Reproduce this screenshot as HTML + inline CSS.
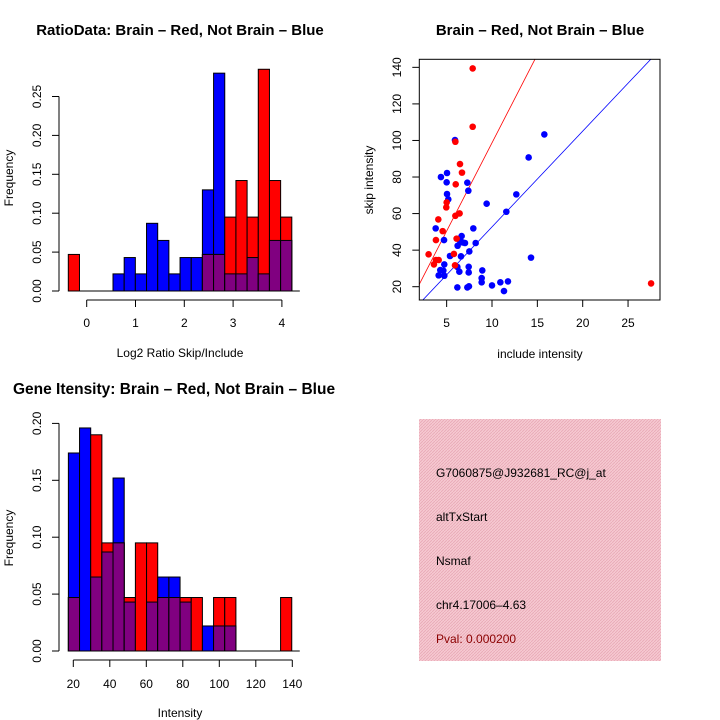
<!DOCTYPE html>
<html><head><meta charset="utf-8">
<style>
html,body{margin:0;padding:0;background:#fff;}
svg{display:block;font-family:"Liberation Sans","DejaVu Sans",sans-serif;}
</style></head>
<body>
<svg id="chart" width="720" height="720" viewBox="0 0 720 720" xmlns="http://www.w3.org/2000/svg">
<defs>
<pattern id="hatch" width="3" height="3" patternUnits="userSpaceOnUse">
<rect width="3" height="3" fill="#f6c9d1"/>
<path d="M0,3 L3,0" stroke="#e8a9b6" stroke-width="0.8"/>
</pattern>
</defs>
</svg>
<script>
// ---- Histogram 1: log2 ratio ----
const h1Start = -0.377;
const h1Width = 0.229;
const h1Red  = [0.047,0,0,0,0,0,0,0,0,0,0,0,0.047,0.047,0.095,0.142,0.095,0.285,0.142,0.095];
const h1Blue = [0,0,0,0,0.022,0.043,0.022,0.087,0.065,0.022,0.043,0.043,0.13,0.28,0.022,0.022,0.043,0.022,0.065,0.065];
const h1XTicks = [0,1,2,3,4];
const h1YTicks = ["0.00","0.05","0.10","0.15","0.20","0.25"];

// ---- Histogram 2: gene intensity ----
const h2Start = 17.3;
const h2Width = 6.12;
const h2Red  = [0.047,0,0.19,0.095,0.095,0.047,0.095,0.095,0.047,0.047,0.047,0.047,0,0.047,0.047,0,0,0,0,0.047];
const h2Blue = [0.174,0.196,0.065,0.087,0.152,0.043,0,0.043,0.065,0.065,0.043,0,0.022,0.022,0.022,0,0,0,0,0];
const h2XTicks = [20,40,60,80,100,120,140];
const h2YTicks = ["0.00","0.05","0.10","0.15","0.20"];

// ---- Scatter ----
const redX = [7.87,7.87,5.96,6.47,6.69,6.0,5.0,4.96,6.43,5.96,4.08,4.56,6.1,3.82,3.01,5.8,4.12,3.82,3.6,5.92,27.54];
const redY = [139.4,107.5,99.3,87.1,82.4,76,66.1,63.4,60.1,58.8,56.8,50.4,46.3,45.5,37.7,37.9,34.6,34.6,32.2,31.7,21.8];
const blueX = [5.92,15.77,14.04,5.04,4.37,5.0,7.28,7.39,5.04,5.18,9.41,12.68,11.58,3.79,7.94,4.71,6.65,6.47,6.76,7.02,8.2,6.21,7.5,5.37,6.58,4.74,6.18,7.43,4.3,4.63,6.4,7.43,8.93,4.12,4.74,8.86,8.86,10.92,11.76,10.0,7.28,6.18,7.46,11.32,14.3];
const blueY = [100.2,103.3,90.7,82.2,80,77.1,76.9,72.5,70.7,67.8,65.4,70.5,61,51.9,51.9,45.5,47.7,45.2,44.2,43.9,43.9,42.4,39.3,36.8,36.6,32.2,30.8,30.9,29.1,28.8,28.2,27.8,28.9,26.2,26,24.7,22.4,22.4,22.9,20.7,19.6,19.6,20.2,17.6,35.9];
const redLine = [9.65, 2.2];   // slope, intercept
const blueLine = [5.24, 0.3];
const scXTicks = [5,10,15,20,25];
const scYTicks = [20,40,60,80,100,120,140];

const NS = "http://www.w3.org/2000/svg";
const svg = document.getElementById('chart');
function mk(tag, attrs, parent){
  const e = document.createElementNS(NS, tag);
  for (const k in attrs) e.setAttribute(k, attrs[k]);
  (parent||svg).appendChild(e);
  return e;
}
function txt(s, x, y, opts, parent){
  const e = mk('text', Object.assign({x:x, y:y, 'font-size':12, 'text-anchor':'middle', fill:'#000'}, opts||{}), parent);
  e.textContent = s;
  return e;
}

function histogram(name, start, width, red, blue, xTicks, yTicks, xs, ys, base, xAxisY, xTickLabelY){
  const g = mk('g', {});
  
  
  for (let i = 0; i < red.length; i++) {
    const x0 = xs(start + i*width), x1 = xs(start + (i+1)*width);
    const vals = [['blue', blue[i]], ['red', red[i]], ['purple', Math.min(red[i], blue[i])]];
    for (const [c, v] of vals) {
      const r = mk('rect', {x:x0, y:ys(v), width:x1-x0, height:base-ys(v), fill:c === 'purple' ? '#800080' : c, stroke:'#000', 'stroke-width':1}, g);
      
      
    }
  }
  const bl = mk('line', {x1:xs(start), x2:xs(start+red.length*width)+8, y1:base, y2:base, stroke:'#000'}, g);
  
  
  const xa = mk('g', {}, g);
  
  
  mk('line', {x1:xs(xTicks[0]), x2:xs(xTicks[xTicks.length-1]), y1:xAxisY, y2:xAxisY, stroke:'#000'}, xa);
  for (const t of xTicks) {
    mk('line', {x1:xs(t), x2:xs(t), y1:xAxisY, y2:xAxisY+7, stroke:'#000'}, xa);
    const l = txt(String(t), xs(t), xTickLabelY, {}, xa);
    
    
  }
  const ya = mk('g', {}, g);
  
  
  const yx = 59;
  mk('line', {x1:yx, x2:yx, y1:ys(parseFloat(yTicks[0])), y2:ys(parseFloat(yTicks[yTicks.length-1])), stroke:'#000'}, ya);
  for (const t of yTicks) {
    const y = ys(parseFloat(t));
    mk('line', {x1:yx-7, x2:yx, y1:y, y2:y, stroke:'#000'}, ya);
    const l = txt(t, 41, y, {transform:'rotate(-90 41 ' + y + ')'}, ya);
    
    
  }
}

const h1xs = v => 86.7 + v*48.8;
const h1ys = v => 291 - v/0.05*38.9;
histogram('ratio-histogram', h1Start, h1Width, h1Red, h1Blue, h1XTicks, h1YTicks, h1xs, h1ys, 291, 300, 327);
let t;
t = txt('RatioData: Brain \u2013 Red, Not Brain \u2013 Blue', 180, 35, {'font-size':15, 'font-weight':'bold'});


t = txt('Log2 Ratio Skip/Include', 180, 357);


t = txt('Frequency', 13, 178, {transform:'rotate(-90 13 178)'});



const h2xs = v => 73.3 + (v-20)*1.825;
const h2ys = v => 651 - v/0.05*56.9;
histogram('intensity-histogram', h2Start, h2Width, h2Red, h2Blue, h2XTicks, h2YTicks, h2xs, h2ys, 651, 660, 688);
t = txt('Gene Itensity: Brain \u2013 Red, Not Brain \u2013 Blue', 174, 394, {'font-size':15.5, 'font-weight':'bold'});


t = txt('Intensity', 180, 717);


t = txt('Frequency', 13, 538, {transform:'rotate(-90 13 538)'});



const sxs = v => 401.3 + v*9.07;
const sys = v => 286.7 - (v-20)*1.828;
const sg = mk('g', {});


const clip = mk('clipPath', {id:'scclip'}, sg);
mk('rect', {x:419.3, y:59.3, width:240.7, height:240.7}, clip);
function regLine(p, color, name){
  const xa = 0, xb = 30;
  const l = mk('line', {x1:sxs(xa), y1:sys(p[0]*xa+p[1]), x2:sxs(xb), y2:sys(p[0]*xb+p[1]), stroke:color, 'stroke-width':0.8, 'clip-path':'url(#scclip)'}, sg);
  
  
}
regLine(redLine, '#ff0000', 'brain-fit-line');
regLine(blueLine, '#0000ff', 'not-brain-fit-line');
for (let i = 0; i < blueX.length; i++) {
  const c = mk('circle', {cx:sxs(blueX[i]), cy:sys(blueY[i]), r:3.3, fill:'#0000ff'}, sg);
  
  
}
for (let i = 0; i < redX.length; i++) {
  const c = mk('circle', {cx:sxs(redX[i]), cy:sys(redY[i]), r:3.3, fill:'#ff0000'}, sg);
  
  
}
const box = mk('rect', {x:419.3, y:59.3, width:240.7, height:240.7, fill:'none', stroke:'#000', 'stroke-width':1}, sg);


for (const v of scXTicks) {
  mk('line', {x1:sxs(v), x2:sxs(v), y1:300, y2:307, stroke:'#000'}, sg);
  const l = txt(String(v), sxs(v), 327, {}, sg);
  
  
}
for (const v of scYTicks) {
  const y = sys(v);
  mk('line', {x1:412.3, x2:419.3, y1:y, y2:y, stroke:'#000'}, sg);
  const l = txt(String(v), 401, y, {transform:'rotate(-90 401 ' + y + ')'}, sg);
  
  
}
t = txt('Brain \u2013 Red, Not Brain \u2013 Blue', 540, 35, {'font-size':15, 'font-weight':'bold'});


t = txt('include intensity', 540, 358);


t = txt('skip intensity', 373, 180, {transform:'rotate(-90 373 180)'});



const ig = mk('g', {});


mk('rect', {x:419, y:419, width:242, height:242, fill:'url(#hatch)'}, ig);
const info = [['G7060875@J932681_RC@j_at', 477, '#000'], ['altTxStart', 521, '#000'], ['Nsmaf', 565, '#000'], ['chr4.17006\u20134.63', 609, '#000'], ['Pval: 0.000200', 643, '#8b0000']];
const infoNames = ['probe-id', 'event-type', 'gene-name', 'location', 'p-value'];
info.forEach((d, i) => {
  const l = txt(d[0], 436, d[1], {'text-anchor':'start', fill:d[2]}, ig);
  
  
});
</script>
</body></html>
